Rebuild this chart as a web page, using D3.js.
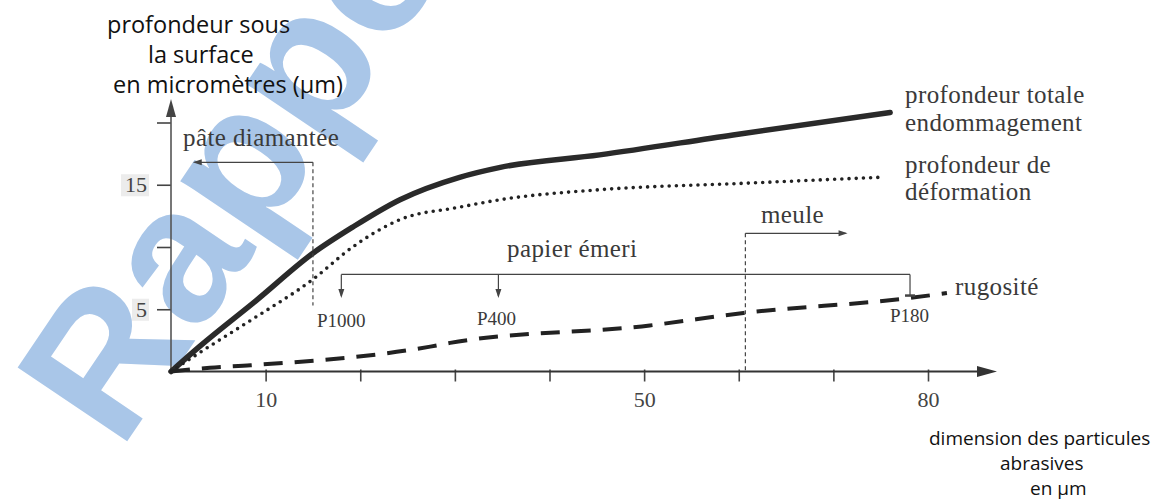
<!DOCTYPE html>
<html>
<head>
<meta charset="utf-8">
<script src="https://cdn.jsdelivr.net/npm/d3@7"></script>
<style>
  html, body { margin: 0; padding: 0; background: #ffffff; }
  svg { display: block; }
</style>
</head>
<body>
<div id="chart"></div>
<script>
// ---------- data ----------
const xTicks = [10, 20, 30, 40, 50, 60, 70, 80];
const xTickLabels = ["10", "", "", "", "50", "", "", "80"];
const yTicks = [5, 10, 15, 20];
const yTickLabels = ["5", "", "15", ""];

const totalX = [0, 3, 9, 15, 19.2, 24.2, 30.5, 34.8, 45.3, 59.4, 76];
const totalY = [0, 2.0, 5.7, 9.5, 11.6, 13.8, 15.6, 16.4, 17.4, 19.0, 20.8];

const deformX = [0, 3, 8.4, 15, 19.2, 24.2, 30.5, 34.8, 45.3, 60, 75];
const deformY = [0, 1.5, 4.1, 7.4, 10.0, 12.2, 13.2, 13.8, 14.6, 15.1, 15.6];

const roughX = [0, 4.1, 8.4, 27.4, 29.5, 50.6, 60.5, 78, 82];
const roughY = [0, 0.3, 0.5, 2.0, 2.3, 3.7, 4.7, 5.9, 6.3];

const seriesNames = ["profondeur totale", "endommagement", "profondeur de", "déformation", "rugosité"];

const paperLabels = ["P1000", "P400", "P180"];
const paperSizes = [18, 34.6, 78.1];
const diamondLimit = 15;
const meuleLimit = 60.7;

const yTitle = ["profondeur sous", "la surface", "en micromètres (µm)"];
const xTitle = ["dimension des particules", "abrasives", "en µm"];

// ---------- setup ----------
const W = 1154, H = 501;
const svg = d3.select("#chart").append("svg").attr("width", W).attr("height", H);

const x = d3.scaleLinear().domain([0, 80]).range([171, 928]);
const y = d3.scaleLinear().domain([0, 20]).range([371.5, 122.5]);

const ink = "#3a3a3a";
const serif = "'Liberation Serif', 'DejaVu Serif', serif";
const sans = "'Open Sans', 'Noto Sans', sans-serif";

// ---------- watermark ----------
svg.append("text")
  .attr("transform", "translate(120,452) rotate(-56)")
  .attr("font-family", "'Liberation Sans', Arial, sans-serif")
  .attr("font-weight", "bold")
  .attr("font-size", 192)
  .attr("fill", "#a9c6e8")
  .text("Rapport");

// ---------- axes ----------
const xAxisG = svg.append("g").attr("transform", `translate(0,${y(0)})`)
  .call(d3.axisBottom(x).tickValues(xTicks).tickSize(10).tickPadding(10)
    .tickFormat((d, i) => xTickLabels[i]));
xAxisG.select(".domain").remove();
xAxisG.selectAll(".tick line").attr("y1", -2).attr("stroke", "#444").attr("stroke-width", 1.6);
xAxisG.selectAll(".tick text").attr("font-family", serif).attr("font-size", 22).attr("fill", "#444");

const yAxisG = svg.append("g").attr("transform", `translate(${x(0)},0)`)
  .call(d3.axisLeft(y).tickValues(yTicks).tickSize(14).tickPadding(10)
    .tickFormat((d, i) => yTickLabels[i]));
yAxisG.select(".domain").remove();
yAxisG.selectAll(".tick line").attr("stroke", "#444").attr("stroke-width", 1.6);
yAxisG.selectAll(".tick").each(function(d, i) {
  if (!yTickLabels[i]) return;
  const g = d3.select(this);
  const w = yTickLabels[i].length * 11 + 6;
  g.insert("rect", "text").attr("x", -24 - w + 2).attr("y", -11).attr("width", w).attr("height", 22)
    .attr("fill", "#ececec");
});
yAxisG.selectAll(".tick text").attr("font-family", serif).attr("font-size", 22).attr("fill", "#444");

// axis lines with arrows
svg.append("line").attr("x1", x(0)).attr("y1", y(0)).attr("x2", 980).attr("y2", y(0))
  .attr("stroke", "#333").attr("stroke-width", 2);
svg.append("path")
  .attr("d", `M997,${y(0)} L977,${y(0) - 5.5} L977,${y(0) + 5.5} Z`).attr("fill", "#333");
svg.append("line").attr("x1", x(0)).attr("y1", y(0)).attr("x2", x(0)).attr("y2", 112)
  .attr("stroke", "#555").attr("stroke-width", 1.6);
svg.append("path")
  .attr("d", `M${x(0)},99 L${x(0) - 5},117 L${x(0) + 5},117 Z`).attr("fill", "#444");

// ---------- curves ----------
const line = d3.line().x(d => x(d[0])).y(d => y(d[1])).curve(d3.curveMonotoneX);

svg.append("path").datum(d3.zip(totalX, totalY)).attr("d", line)
  .attr("fill", "none").attr("stroke", "#2a2a2a").attr("stroke-width", 5.5)
  .attr("stroke-linecap", "round");

svg.append("path").datum(d3.zip(deformX, deformY)).attr("d", line)
  .attr("fill", "none").attr("stroke", "#222").attr("stroke-width", 3.6)
  .attr("stroke-linecap", "round").attr("stroke-dasharray", "0,7.2");

svg.append("path").datum(d3.zip(roughX, roughY)).attr("d", line)
  .attr("fill", "none").attr("stroke", "#222").attr("stroke-width", 4)
  .attr("stroke-dasharray", "19,12");

// ---------- annotations ----------
const ann = svg.append("g").attr("stroke", "#444").attr("stroke-width", 1.2).attr("fill", "none");
function arrowHead(g, tx, ty, dir) {
  let d;
  if (dir === "left") d = `M${tx},${ty} L${tx + 9},${ty - 3} L${tx + 9},${ty + 3} Z`;
  if (dir === "right") d = `M${tx},${ty} L${tx - 9},${ty - 3} L${tx - 9},${ty + 3} Z`;
  if (dir === "down") d = `M${tx},${ty} L${tx - 3},${ty - 9} L${tx + 3},${ty - 9} Z`;
  g.append("path").attr("d", d).attr("fill", "#444").attr("stroke", "none");
}

// pâte diamantée
const pdY = y(16.8);
ann.append("line").attr("x1", x(diamondLimit)).attr("x2", x(diamondLimit))
  .attr("y1", pdY).attr("y2", y(5.3)).attr("stroke-dasharray", "4,3");
ann.append("line").attr("x1", x(diamondLimit)).attr("x2", x(2.3) + 2).attr("y1", pdY).attr("y2", pdY);
arrowHead(ann, x(2.3), pdY, "left");

// meule
const mY = y(11.1);
ann.append("line").attr("x1", x(meuleLimit)).attr("x2", x(meuleLimit))
  .attr("y1", mY).attr("y2", y(0)).attr("stroke-dasharray", "4,3");
ann.append("line").attr("x1", x(meuleLimit)).attr("x2", x(71.5) - 2).attr("y1", mY).attr("y2", mY);
arrowHead(ann, x(71.5), mY, "right");

// papier émeri bracket
const peY = y(7.8);
ann.append("line").attr("x1", x(paperSizes[0])).attr("x2", x(paperSizes[2]))
  .attr("y1", peY).attr("y2", peY);
paperSizes.forEach((s, i) => {
  if (i < 2) {
    ann.append("line").attr("x1", x(s)).attr("x2", x(s)).attr("y1", peY).attr("y2", y(5.9) - 2);
    arrowHead(ann, x(s), y(5.9), "down");
  } else {
    ann.append("line").attr("x1", x(s)).attr("x2", x(s)).attr("y1", peY).attr("y2", y(6.1));
    ann.append("line").attr("x1", x(s) - 5).attr("x2", x(s) + 5).attr("y1", y(6.1)).attr("y2", y(6.1))
      .attr("stroke-width", 2.5);
  }
});

// ---------- texts ----------
const txt = svg.append("g").attr("font-family", serif).attr("fill", ink)
  .attr("font-size", 25).attr("letter-spacing", 0.4);
txt.append("text").attr("x", 183).attr("y", 146).text("pâte diamantée");
txt.append("text").attr("x", 507).attr("y", 257).text("papier émeri");
txt.append("text").attr("x", 761).attr("y", 223).text("meule");
paperLabels.forEach((l, i) => {
  const px = [317, 477, 890][i];
  const py = [327, 325, 322][i];
  txt.append("text").attr("x", px).attr("y", py).attr("font-size", 19)
    .attr("letter-spacing", 0).text(l);
});
txt.append("text").attr("x", 905).attr("y", 103).text(seriesNames[0]);
txt.append("text").attr("x", 905).attr("y", 131).text(seriesNames[1]);
txt.append("text").attr("x", 905).attr("y", 173).text(seriesNames[2]);
txt.append("text").attr("x", 905).attr("y", 200).text(seriesNames[3]);
txt.append("text").attr("x", 955).attr("y", 295).text(seriesNames[4]);

// axis titles
const at = svg.append("g").attr("font-family", sans).attr("fill", "#111");
[[107, 33], [148, 63], [113, 93]].forEach((p, i) => {
  at.append("text").attr("x", p[0]).attr("y", p[1]).attr("font-size", 23.5).text(yTitle[i]);
});
[[929, 445], [1000, 470], [1030, 495]].forEach((p, i) => {
  at.append("text").attr("x", p[0]).attr("y", p[1]).attr("font-size", 19).text(xTitle[i]);
});
</script>
</body>
</html>
